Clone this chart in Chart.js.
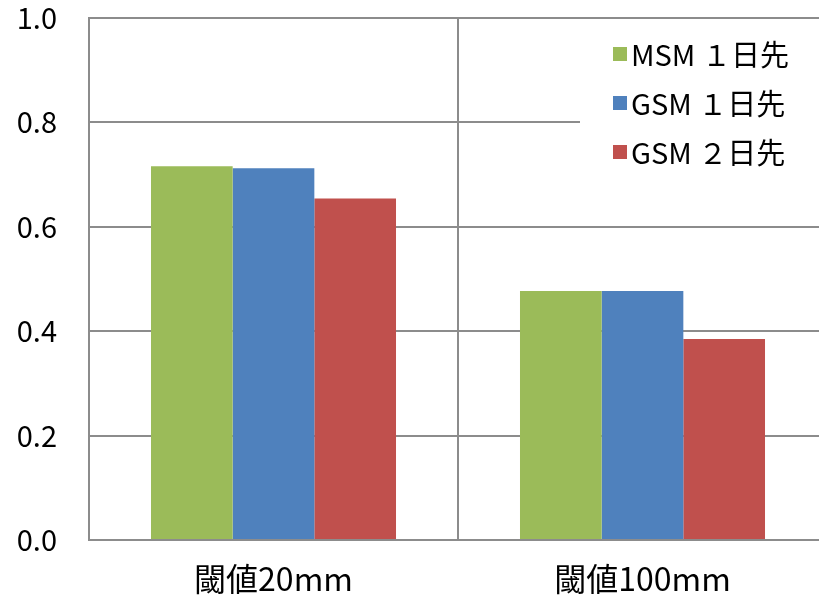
<!DOCTYPE html>
<html>
<head>
<meta charset="utf-8">
<script src="https://cdn.jsdelivr.net/npm/chart.js@4/dist/chart.umd.min.js"></script>
<style>
  html, body { margin: 0; padding: 0; background: #fff; overflow: hidden; }
  #wrap { width: 830px; height: 597px; }
</style>
</head>
<body>
<div id="wrap"><canvas id="scoreChart" width="830" height="597"></canvas></div>
<script>
const categories = ['閾値20mm', '閾値100mm'];
const seriesNames = ['MSM １日先', 'GSM １日先', 'GSM ２日先'];
const msm1 = [0.716, 0.477];
const gsm1 = [0.712, 0.477];
const gsm2 = [0.654, 0.385];
const barColors = ['#9BBB59', '#4F81BD', '#C0504D'];

const FONT = '"Noto Sans CJK JP", "Noto Sans", sans-serif';
const GRID = '#8c8c8c';

// legend box sitting inside the plot, top right, over the grid
const insideLegend = {
    id: 'insideLegend',
    afterDraw(chart) {
        const ctx = chart.ctx;
        const area = chart.chartArea;
        ctx.save();
        ctx.fillStyle = '#fff';
        ctx.fillRect(580, area.top + 10, area.right - 580, 160);
        ctx.font = '29px ' + FONT;
        ctx.textBaseline = 'middle';
        chart.data.datasets.forEach((ds, i) => {
            const y = 54 + i * 49;
            ctx.fillStyle = ds.backgroundColor;
            ctx.fillRect(613, y - 7, 14, 14);
            ctx.fillStyle = '#000';
            ctx.fillText(ds.label, 631, y + 1);
        });
        ctx.restore();
    }
};

new Chart('scoreChart', {
    type: 'bar',
    data: {
        labels: categories,
        datasets: [
            { label: seriesNames[0], data: msm1, backgroundColor: barColors[0] },
            { label: seriesNames[1], data: gsm1, backgroundColor: barColors[1] },
            { label: seriesNames[2], data: gsm2, backgroundColor: barColors[2] }
        ]
    },
    options: {
        responsive: false,
        animation: false,
        layout: { padding: { top: 18, right: 3, left: 0, bottom: 0 } },
        datasets: { bar: { categoryPercentage: 0.664, barPercentage: 1 } },
        plugins: {
            legend: { display: false },
            tooltip: { enabled: false }
        },
        scales: {
            x: {
                grid: { color: GRID, lineWidth: 2, offset: true, drawTicks: false },
                border: { color: GRID, width: 2 },
                ticks: { color: '#000', font: { family: FONT, size: 32 }, padding: 20 },
                afterFit(scale) { scale.height = 57; }
            },
            y: {
                min: 0,
                max: 1,
                grid: { color: GRID, lineWidth: 2, drawTicks: false },
                border: { color: GRID, width: 2 },
                ticks: {
                    stepSize: 0.2,
                    color: '#000',
                    font: { family: FONT, size: 29 },
                    padding: 32,
                    callback: v => v.toFixed(1)
                },
                afterFit(scale) {
                    scale.width = 89;
                    scale.paddingTop = 0;
                    scale.paddingBottom = 0;
                }
            }
        }
    },
    plugins: [insideLegend]
});
</script>
</body>
</html>
